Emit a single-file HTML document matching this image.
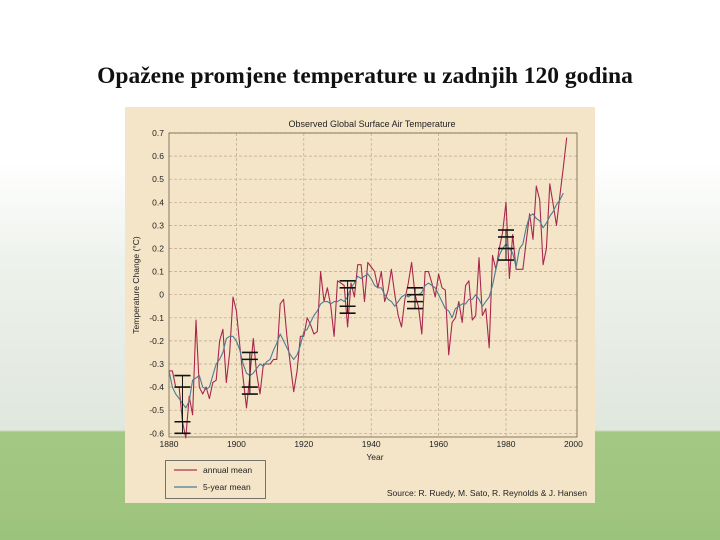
<!DOCTYPE html>
<html><head><meta charset="utf-8">
<style>
html,body{margin:0;padding:0;width:720px;height:540px;overflow:hidden;background:#fff;}
#bg{position:absolute;left:0;top:0;width:720px;height:540px;background:linear-gradient(180deg,#ffffff 0px,#ffffff 160px,#eef2ec 260px,#e0e7dd 430px,#a3c885 432px,#9fc57f 500px,#9cc37c 540px);}
#title{position:absolute;left:0;top:63px;width:730px;text-align:center;font-family:"Liberation Serif",serif;font-size:23.5px;font-weight:bold;color:#111;}
svg{position:absolute;left:0;top:0;}
</style></head><body>
<div id="bg"></div>
<div id="title">Opažene promjene temperature u zadnjih 120 godina</div>
<svg id="chart" width="720" height="540" font-family="Liberation Sans, sans-serif">
<rect x="125" y="107" width="470" height="396" fill="#f5e5c8"/>
<text x="372" y="127" font-size="9" text-anchor="middle" fill="#222">Observed Global Surface Air Temperature</text>
<g id="grid"></g><g id="axes"></g><g id="series"></g><g id="errs"></g>
<text transform="translate(139,285) rotate(-90)" font-size="8.5" text-anchor="middle" fill="#222">Temperature Change (°C)</text>
<text x="375" y="460" font-size="8.5" text-anchor="middle" fill="#222">Year</text>
<g>
<rect x="165.5" y="460.5" width="100" height="38" fill="none" stroke="#555" stroke-width="0.8"/>
<line x1="174" y1="470" x2="197" y2="470" stroke="#b0304f" stroke-width="1.2"/>
<text x="203" y="473" font-size="8.5" fill="#222">annual mean</text>
<line x1="174" y1="487" x2="197" y2="487" stroke="#4a7d92" stroke-width="1.2"/>
<text x="203" y="490" font-size="8.5" fill="#222">5-year mean</text>
</g>
<text x="587" y="496" font-size="8.5" text-anchor="end" fill="#222">Source: R. Ruedy, M. Sato, R. Reynolds &amp; J. Hansen</text>
</svg>
<script>
const startYear = 1880;
const annualMean = [-0.33,-0.33,-0.40,-0.40,-0.55,-0.62,-0.44,-0.52,-0.11,-0.40,
-0.43,-0.40,-0.45,-0.38,-0.37,-0.20,-0.15,-0.38,-0.25,-0.01,
-0.07,-0.22,-0.36,-0.49,-0.35,-0.19,-0.34,-0.43,-0.30,-0.30,
-0.30,-0.28,-0.28,-0.04,-0.02,-0.18,-0.30,-0.42,-0.33,-0.18,
-0.18,-0.10,-0.13,-0.17,-0.16,0.10,-0.03,0.03,-0.05,-0.18,
0.06,0.05,0.04,-0.14,0.05,-0.01,0.13,0.13,-0.03,0.14,
0.12,0.10,0.03,0.10,-0.03,0.02,0.11,0.00,-0.09,-0.14,
-0.02,0.05,0.14,0.00,-0.05,-0.17,0.10,0.10,0.05,-0.01,
0.09,0.03,0.02,-0.26,-0.12,-0.10,-0.03,-0.12,0.04,0.06,
-0.11,-0.09,0.16,-0.09,-0.06,-0.23,0.17,0.11,0.20,0.27,
0.40,0.07,0.26,0.11,0.11,0.11,0.23,0.35,0.24,0.47,
0.41,0.13,0.20,0.48,0.39,0.30,0.43,0.55,0.68];
const fiveYearMean = [-0.33,-0.40,-0.43,-0.45,-0.47,-0.49,-0.46,-0.37,-0.36,-0.35,
-0.40,-0.41,-0.40,-0.35,-0.30,-0.28,-0.25,-0.19,-0.18,-0.18,
-0.20,-0.24,-0.30,-0.34,-0.35,-0.34,-0.32,-0.30,-0.31,-0.29,
-0.28,-0.24,-0.21,-0.17,-0.20,-0.23,-0.26,-0.28,-0.26,-0.22,
-0.16,-0.15,-0.12,-0.09,-0.07,-0.04,-0.03,-0.03,-0.04,-0.03,
-0.03,-0.02,-0.03,-0.01,0.03,0.05,0.08,0.07,0.08,0.09,
0.07,0.04,0.03,0.03,0.00,-0.02,-0.03,-0.05,-0.03,-0.01,
0.00,-0.01,0.00,0.00,0.00,0.01,0.04,0.05,0.04,0.03,
0.00,-0.03,-0.06,-0.07,-0.10,-0.06,-0.05,-0.04,-0.04,-0.02,
-0.02,0.00,-0.02,-0.05,-0.03,-0.01,0.04,0.11,0.17,0.20,
0.22,0.20,0.18,0.12,0.20,0.22,0.29,0.34,0.35,0.33,
0.32,0.29,0.31,0.34,0.36,0.39,0.41,0.44];
const xTicks = [1880,1900,1920,1940,1960,1980,2000];
const yTicks = [0.7,0.6,0.5,0.4,0.3,0.2,0.1,0,-0.1,-0.2,-0.3,-0.4,-0.5,-0.6];
const yTickLabels = ["0.7","0.6","0.5","0.4","0.3","0.2","0.1","0","-0.1","-0.2","-0.3","-0.4","-0.5","-0.6"];
const errYears = [1884,1904,1933,1953,1980];
const errHigh = [-0.35,-0.25,0.06,0.03,0.28];
const errLow = [-0.60,-0.43,-0.08,-0.06,0.15];
const errInnerHigh = [-0.40,-0.28,0.03,0.00,0.25];
const errInnerLow = [-0.55,-0.40,-0.05,-0.03,0.20];

const NS="http://www.w3.org/2000/svg";
function X(yr){return 169+(yr-1880)*3.37;}
function Y(v){return 294.7-v*231;}
function mk(parent,tag,attrs){const e=document.createElementNS(NS,tag);for(const k in attrs)e.setAttribute(k,attrs[k]);document.getElementById(parent).appendChild(e);return e;}
for(let i=0;i<yTicks.length;i++){
  const y=Y(yTicks[i]);
  const g=mk('grid','line',{x1:169,x2:577,y1:y,y2:y,stroke:'#b9a88a','stroke-width':0.7,'stroke-dasharray':'3,2'});
  
  
  const t=mk('axes','text',{x:164,y:y+3,'font-size':8.5,'text-anchor':'end',fill:'#222'});
  t.textContent=yTickLabels[i];
  
  
}
for(const yr of xTicks){
  const x=X(yr);
  if(yr>1880&&yr<2000){
    const g=mk('grid','line',{x1:x,x2:x,y1:133,y2:437,stroke:'#b9a88a','stroke-width':0.7,'stroke-dasharray':'3,2'});
    
    
  }
  const t=mk('axes','text',{x:x,y:447,'font-size':8.5,'text-anchor':'middle',fill:'#222'});
  t.textContent=yr;
  
  
}
const fr=mk('axes','rect',{x:169,y:133,width:408,height:304,fill:'none',stroke:'#6b5e4c','stroke-width':0.8});


const pa=annualMean.map((v,i)=>X(startYear+i).toFixed(1)+','+Y(v).toFixed(1)).join(' ');
const la=mk('series','polyline',{points:pa,fill:'none',stroke:'#a8284c','stroke-width':1.1,'stroke-linejoin':'round'});


const pf=fiveYearMean.map((v,i)=>X(startYear+i).toFixed(1)+','+Y(v).toFixed(1)).join(' ');
const lf=mk('series','polyline',{points:pf,fill:'none',stroke:'#4a7d92','stroke-width':1.1,'stroke-linejoin':'round'});


for(let i=0;i<errYears.length;i++){
  const x=X(errYears[i]);
  const v=mk('errs','line',{x1:x,x2:x,y1:Y(errHigh[i]),y2:Y(errLow[i]),stroke:'#111','stroke-width':1});
  
  
  for(const val of [errHigh[i],errLow[i],errInnerHigh[i],errInnerLow[i]]){
    const c=mk('errs','line',{x1:x-8,x2:x+8,y1:Y(val),y2:Y(val),stroke:'#111','stroke-width':1.6});
    
    
  }
}
</script>
</body></html>
